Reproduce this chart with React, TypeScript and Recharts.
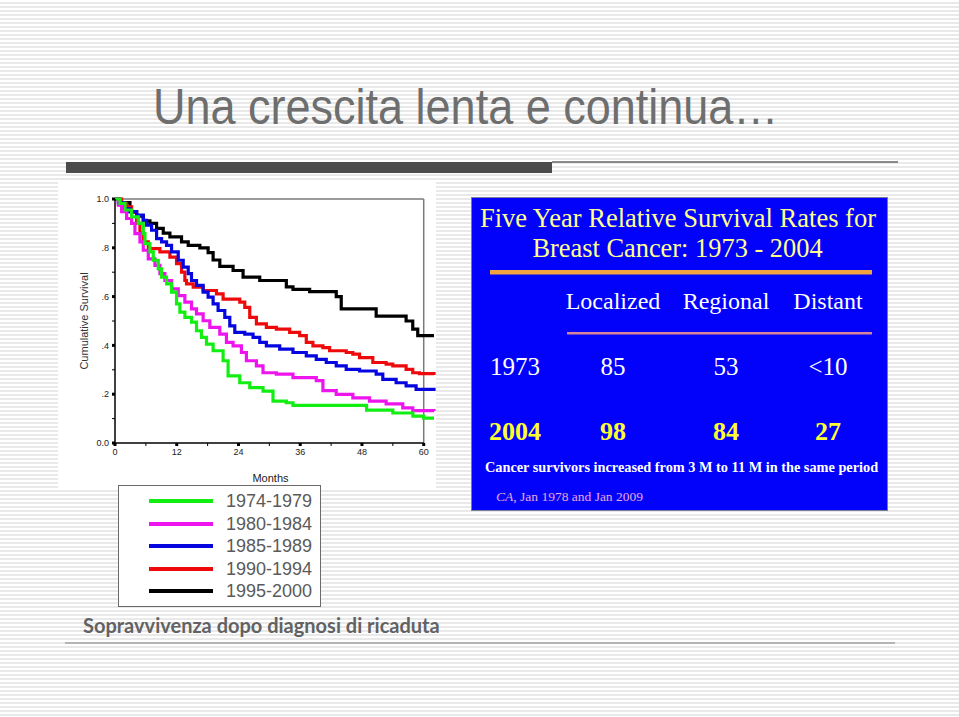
import React from 'react';
import { LineChart, Line, XAxis, YAxis, ReferenceLine } from 'recharts';

type Pt = [number, number];

// months on x, cumulative survival on y
const X_TICKS = [0, 6, 12, 18, 24, 30, 36, 42, 48, 54, 60];
const Y_TICKS = [0, 0.1, 0.2, 0.3, 0.4, 0.5, 0.6, 0.7, 0.8, 0.9, 1];

const KM_1974_1979: Pt[] = [
  [0, 1.0], [0.97, 0.982], [1.94, 0.955], [3.23, 0.927], [4.53, 0.9], [5.5, 0.858], [5.82, 0.817],
  [6.79, 0.783], [7.44, 0.749], [8.41, 0.714], [9.05, 0.68], [10.02, 0.652], [10.99, 0.618],
  [11.96, 0.57], [12.61, 0.536], [13.58, 0.515], [14.87, 0.495], [15.84, 0.46], [16.81, 0.433],
  [17.78, 0.405], [19.07, 0.378], [21.01, 0.337], [21.98, 0.275], [24.25, 0.247], [26.19, 0.227],
  [28.77, 0.213], [30.71, 0.172], [33.3, 0.165], [34.59, 0.154], [48.9, 0.135], [54.0, 0.123],
  [57.9, 0.11], [60.0, 0.102], [62, 0.102],
];

const KM_1980_1984: Pt[] = [
  [0, 1.0], [0.65, 0.975], [1.29, 0.948], [2.26, 0.92], [3.23, 0.9], [3.88, 0.858], [4.85, 0.824],
  [5.5, 0.79], [6.47, 0.755], [7.76, 0.728], [8.73, 0.694], [9.7, 0.666], [10.99, 0.632],
  [12.29, 0.604], [13.58, 0.577], [14.87, 0.55], [15.84, 0.529], [17.13, 0.501], [18.43, 0.474],
  [20.37, 0.446], [21.66, 0.412], [22.95, 0.398], [24.57, 0.371], [25.54, 0.337], [27.48, 0.316],
  [28.77, 0.288], [31.36, 0.282], [34.59, 0.268], [39.12, 0.256], [40.41, 0.215], [43.0, 0.199],
  [46.23, 0.185], [49.46, 0.172], [52.7, 0.16], [55.93, 0.144], [57.87, 0.133], [62, 0.13],
];

const KM_1985_1989: Pt[] = [
  [0, 1.0], [0.65, 0.985], [1.62, 0.96], [2.91, 0.948], [4.2, 0.934], [5.5, 0.913], [6.14, 0.893],
  [7.11, 0.872], [8.08, 0.838], [9.05, 0.824], [10.02, 0.81], [10.99, 0.783], [12.29, 0.749],
  [13.26, 0.721], [14.23, 0.694], [14.87, 0.666], [15.84, 0.646], [17.13, 0.618], [18.1, 0.598],
  [19.07, 0.57], [20.04, 0.543], [21.34, 0.515], [22.31, 0.48], [23.28, 0.453], [25.22, 0.446],
  [26.83, 0.433], [28.13, 0.412], [29.42, 0.398], [32.01, 0.385], [34.59, 0.371], [37.18, 0.357],
  [39.12, 0.343], [41.06, 0.33], [43.0, 0.316], [44.94, 0.302], [47.53, 0.295], [50.76, 0.282],
  [52.05, 0.261], [54.64, 0.247], [56.58, 0.234], [58.52, 0.22], [62, 0.213],
];

const KM_1990_1994: Pt[] = [
  [0, 1.0], [1.29, 0.982], [2.26, 0.968], [3.23, 0.945], [4.2, 0.9], [4.85, 0.86], [5.5, 0.824],
  [6.47, 0.797], [8.73, 0.783], [10.67, 0.762], [11.96, 0.735], [12.93, 0.7], [13.58, 0.666],
  [13.9, 0.652], [15.2, 0.639], [17.13, 0.625], [19.72, 0.611], [21.01, 0.59], [24.25, 0.577],
  [25.22, 0.556], [26.19, 0.515], [27.48, 0.488], [29.42, 0.474], [31.36, 0.467], [33.95, 0.453],
  [35.89, 0.44], [37.18, 0.412], [38.47, 0.398], [40.41, 0.391], [41.71, 0.378], [44.94, 0.371],
  [46.23, 0.364], [47.53, 0.35], [50.11, 0.33], [52.7, 0.323], [53.99, 0.316], [56.58, 0.302],
  [57.87, 0.288], [59.16, 0.284], [62, 0.279],
];

const KM_1995_2000: Pt[] = [
  [0, 1.0], [0.97, 0.985], [2.91, 0.948], [4.2, 0.93], [5.5, 0.91], [6.79, 0.9], [8.08, 0.88],
  [9.38, 0.86], [10.67, 0.845], [12.93, 0.824], [14.23, 0.81], [16.49, 0.8], [18.1, 0.78],
  [19.07, 0.75], [20.37, 0.724], [22.95, 0.707], [24.89, 0.68], [28.13, 0.666], [33.3, 0.64],
  [34.59, 0.63], [37.83, 0.62], [43.0, 0.6], [43.97, 0.55], [50.76, 0.52], [56.58, 0.5],
  [57.87, 0.467], [58.84, 0.44], [62, 0.44],
];

const SERIES = [
  { name: '1974-1979', color: '#12ee12', points: KM_1974_1979 },
  { name: '1980-1984', color: '#ee14ee', points: KM_1980_1984 },
  { name: '1985-1989', color: '#0505e0', points: KM_1985_1989 },
  { name: '1990-1994', color: '#ee0a0a', points: KM_1990_1994 },
  { name: '1995-2000', color: '#000000', points: KM_1995_2000 },
];

// table on the blue slide
const STAGES = ['Localized', 'Regional', 'Distant'];
const RATES_1973 = ['85', '53', '<10'];
const RATES_2004 = ['98', '84', '27'];
const STAGE_X = [141, 254, 356];

const SANS = '"Liberation Sans", Arial, Helvetica, sans-serif';
const SERIF = '"Liberation Serif", "Times New Roman", serif';

const fmtY = (v: number) => (v === 0 ? '0.0' : v === 1 ? '1.0' : '.' + Math.round(v * 10));

function YTick(props: any) {
  const { x, y, payload } = props;
  const v = payload.value as number;
  const major = Math.round(v * 10) % 2 === 0;
  const ax = x + 5;
  if (!major) return <g />;
  return (
    <g>
      <rect x={ax - 3} y={y - 1.5} width={3} height={3} fill="#000" />
      <text x={x - 1} y={y} dy={3.2} textAnchor="end" fontSize={9} fill="#222" fontFamily={SANS}>
        {fmtY(v)}
      </text>
    </g>
  );
}

function XTick(props: any) {
  const { x, y, payload } = props;
  const v = payload.value as number;
  const ay = y - 5;
  if (v % 12 !== 0) return <g />;
  return (
    <g>
      <rect x={x - 1.5} y={ay} width={3} height={3} fill="#000" />
      <text x={x} y={ay + 12} textAnchor="middle" fontSize={9} fill="#222" fontFamily={SANS}>
        {v}
      </text>
    </g>
  );
}

function YLabel(props: any) {
  const vb = props.viewBox || { x: 75, y: 14, width: 40, height: 244 };
  const cx = vb.x + 12.5;
  const cy = vb.y + vb.height / 2;
  return (
    <text x={cx} y={cy} transform={`rotate(-90 ${cx} ${cy})`} textAnchor="middle" fontSize={11}
      fill="#333" fontFamily={SANS}>
      Cumulative Survival
    </text>
  );
}

export default function App() {
  return (
    <div
      style={{
        position: 'absolute', left: 0, top: 0, width: 959, height: 717, overflow: 'hidden',
        background: 'repeating-linear-gradient(to bottom, #ffffff 0px, #ffffff 2.4px, #e9e9e9 2.4px, #e9e9e9 4px)',
      }}
    >
      <div
        style={{
          position: 'absolute', left: 153, top: 82, fontFamily: SANS, fontSize: 50, lineHeight: 1,
          color: '#6e6e6e', whiteSpace: 'nowrap', transform: 'scaleX(0.9)', transformOrigin: '0 0',
        }}
      >
        Una crescita lenta e continua…
      </div>
      <div style={{ position: 'absolute', left: 66, top: 162, width: 486, height: 11, background: '#4b4b4b' }} />
      <div style={{ position: 'absolute', left: 552, top: 161, width: 346, height: 2, background: '#8a8a8a' }} />

      <div style={{ position: 'absolute', left: 58, top: 182, width: 378, height: 306, background: '#fff' }} />
      <div style={{ position: 'absolute', left: 60, top: 185 }}>
        <LineChart width={380} height={300} margin={{ top: 14, right: 6, bottom: 0, left: 15 }}
          style={{ fontFamily: SANS }}>
          <XAxis type="number" dataKey="m" domain={[0, 62]} ticks={X_TICKS} axisLine={false}
            tickLine={{ stroke: '#000' }} tickSize={3} tickMargin={2} tick={<XTick />} height={42}
            label={{ value: 'Months', position: 'insideBottom', offset: 3, dx: -4, fontSize: 11, fill: '#222' }} />
          <YAxis type="number" domain={[0, 1]} ticks={Y_TICKS} width={40}
            axisLine={{ stroke: '#000', strokeWidth: 1.5 }} tickLine={{ stroke: '#000' }} tickSize={3}
            tickMargin={2} tick={<YTick />} label={YLabel} />
          <ReferenceLine segment={[{ x: 0, y: 1 }, { x: 60, y: 1 }]} stroke="#7a7a7a" strokeWidth={1.5} />
          <ReferenceLine segment={[{ x: 60, y: 0 }, { x: 60, y: 1 }]} stroke="#7a7a7a" strokeWidth={1.5} />
          <ReferenceLine segment={[{ x: 0, y: 0 }, { x: 60, y: 0 }]} stroke="#000" strokeWidth={1.5} />
          {[...SERIES].reverse().map((s) => (
            <Line key={s.name} name={s.name} data={s.points.map(([m, v]) => ({ m, s: v }))} dataKey="s"
              type="stepAfter" stroke={s.color} strokeWidth={3.2} dot={false} activeDot={false}
              isAnimationActive={false} />
          ))}
        </LineChart>
      </div>

      <div style={{ position: 'absolute', left: 118, top: 485, width: 201, height: 120, border: '1px solid #6a6a6a', background: '#fff' }}>
        {SERIES.map((s, i) => (
          <div key={s.name} style={{ position: 'absolute', left: 0, top: 4 + i * 22.5, height: 22, width: 200 }}>
            <div style={{ position: 'absolute', left: 30, top: 9, width: 64, height: 4, background: s.color }} />
            <div style={{ position: 'absolute', left: 107, top: 0, lineHeight: '22px', fontSize: 18, fontFamily: SANS, color: '#5a5a5a' }}>
              {s.name}
            </div>
          </div>
        ))}
      </div>

      <div
        style={{
          position: 'absolute', left: 83, top: 613, fontFamily: 'Lato, "Open Sans", sans-serif', fontWeight: 700,
          fontSize: 20, lineHeight: 1.2, color: '#626262', whiteSpace: 'nowrap',
        }}
      >
        Sopravvivenza dopo diagnosi di ricaduta
      </div>
      <div style={{ position: 'absolute', left: 65, top: 642, width: 830, height: 2, background: '#b4b4b4' }} />

      <div style={{ position: 'absolute', left: 472, top: 198, width: 415, height: 312, background: '#0202fb', boxShadow: '0 0 0 1px #7a7a9a' }}>
        <svg width={415} height={312} style={{ position: 'absolute', left: 0, top: 0 }} fontFamily={SERIF}>
          <text x={206} y={28.7} textAnchor="middle" fontSize={26.5} fill="#ffff8c">Five Year Relative Survival Rates for</text>
          <text x={205.5} y={58.7} textAnchor="middle" fontSize={26.4} fill="#ffff8c">Breast Cancer: 1973 - 2004</text>
          <rect x={18} y={72} width={382} height={4.5} fill="#f2a23e" />
          {STAGES.map((t, i) => (
            <text key={t} x={STAGE_X[i]} y={111} textAnchor="middle" fontSize={24} fill="#ffffff">{t}</text>
          ))}
          <rect x={95} y={134} width={305} height={2.5} fill="#d8849c" />
          <text x={18} y={177} fontSize={25} fill="#ffffff">1973</text>
          {RATES_1973.map((t, i) => (
            <text key={i} x={STAGE_X[i]} y={177} textAnchor="middle" fontSize={25} fill="#ffffff">{t}</text>
          ))}
          <text x={17} y={242} fontSize={26} fontWeight={700} fill="#ffff30">2004</text>
          {RATES_2004.map((t, i) => (
            <text key={i} x={STAGE_X[i]} y={242} textAnchor="middle" fontSize={26} fontWeight={700} fill="#ffff30">{t}</text>
          ))}
          <text x={13} y={273.7} fontSize={14.3} fontWeight={700} fill="#ffffff">
            Cancer survivors increased from 3 M to 11 M in the same period
          </text>
          <text x={24} y={303} fontSize={13.5} fill="#e9a6dc">
            <tspan fontStyle="italic">CA</tspan>, Jan 1978 and Jan 2009
          </text>
        </svg>
      </div>
    </div>
  );
}
